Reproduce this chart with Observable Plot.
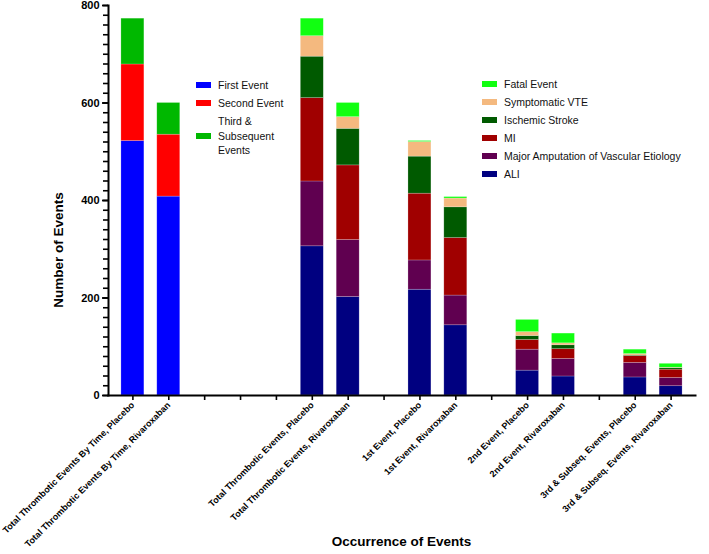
<!DOCTYPE html>
<html>
<head>
<meta charset="utf-8">
<script src="https://cdn.jsdelivr.net/npm/d3@7"></script>
<script src="https://cdn.jsdelivr.net/npm/@observablehq/plot@0.6"></script>
<style>
  body { margin: 0; background: #fff; font-family: "Liberation Sans", Arial, sans-serif; }
  #wrap { position: relative; width: 709px; height: 554px; }
  .legend { position: absolute; font-size: 10.5px; color: #111; line-height: 14.5px; }
  .legend .row { display: flex; align-items: center; }
  .legend .sw { width: 15px; height: 6px; margin-right: 7px; flex: none; }
</style>
</head>
<body>
<div id="wrap"></div>
<script>
// ---- data ----
const categories = [
  "Total Thrombotic Events By Time, Placebo",
  "Total Thrombotic Events By Time, Rivaroxaban",
  " ", "  ", "   ",
  "Total Thrombotic Events, Placebo",
  "Total Thrombotic Events, Rivaroxaban",
  "    ",
  "1st Event, Placebo",
  "1st Event, Rivaroxaban",
  "     ",
  "2nd Event, Placebo",
  "2nd Event, Rivaroxaban",
  "      ",
  "3rd & Subseq. Events, Placebo",
  "3rd & Subseq. Events, Rivaroxaban"
];

const timeSeries = ["First Event", "Second Event", "Third & Subsequent Events"];
const timePlacebo = [522, 157, 94];
const timeRivaroxaban = [408, 127, 65];

const typeSeries = ["ALI", "Major Amputation of Vascular Etiology", "MI", "Ischemic Stroke", "Symptomatic VTE", "Fatal Event"];
const totalPlacebo = [306, 133, 171, 85, 42, 36];
const totalRivaroxaban = [202, 117, 153, 75, 24, 29];
const firstPlacebo = [217, 60, 137, 76, 30, 2];
const firstRivaroxaban = [144, 61, 118, 63, 18, 3];
const secondPlacebo = [51, 43, 20, 8, 8, 25];
const secondRivaroxaban = [39, 36, 20, 8, 4, 20];
const thirdPlacebo = [37, 30, 14, 1, 3, 9];
const thirdRivaroxaban = [19, 17, 17, 3, 1, 8];

const yTicks = [0, 200, 400, 600, 800];

const colors = {
  "First Event": "#0000ff",
  "Second Event": "#ff0000",
  "Third & Subsequent Events": "#00b800",
  "ALI": "#000080",
  "Major Amputation of Vascular Etiology": "#600050",
  "MI": "#a00000",
  "Ischemic Stroke": "#005a00",
  "Symptomatic VTE": "#f4b97f",
  "Fatal Event": "#11ff11"
};

// ---- build long table ----
const rows = [];
function add(cat, series, values) {
  series.forEach((s, i) => rows.push({cat, series: s, value: values[i]}));
}
add(categories[0], timeSeries, timePlacebo);
add(categories[1], timeSeries, timeRivaroxaban);
add(categories[5], typeSeries, totalPlacebo);
add(categories[6], typeSeries, totalRivaroxaban);
add(categories[8], typeSeries, firstPlacebo);
add(categories[9], typeSeries, firstRivaroxaban);
add(categories[11], typeSeries, secondPlacebo);
add(categories[12], typeSeries, secondRivaroxaban);
add(categories[14], typeSeries, thirdPlacebo);
add(categories[15], typeSeries, thirdRivaroxaban);

const allSeries = [...timeSeries, ...typeSeries];

const font = "'Liberation Sans', Arial, sans-serif";
const W = 709, H = 554, mT = 5, mB = 159, mL = 108, mR = 14;

const chart = Plot.plot({
  width: W,
  height: H,
  marginTop: mT,
  marginBottom: mB,
  marginLeft: mL,
  marginRight: mR,
  style: {fontFamily: font, fontSize: "11px", color: "#000", background: "#fff"},
  x: {domain: categories, padding: 0.36, round: false, label: null},
  y: {domain: [0, 800], label: null},
  color: {domain: allSeries, range: allSeries.map(s => colors[s])},
  marks: [
    Plot.barY(rows, {x: "cat", y: "value", fill: "series", stroke: "#ffffff", strokeOpacity: 0.35, strokeWidth: 0.6}),
    Plot.axisY({ticks: d3.range(0, 801, 20), tickSize: 5, tickFormat: () => "", strokeWidth: 1.6}),
    Plot.axisY({ticks: yTicks, tickSize: 6, tickPadding: 3, strokeWidth: 1.8, fontWeight: "bold", fontSize: 11}),
    Plot.axisX({tickSize: 5, tickRotate: -45, tickPadding: 3, strokeWidth: 1.6, fontWeight: "bold", fontSize: 9}),
    Plot.frame({anchor: "left", stroke: "#000", strokeWidth: 2}),
    Plot.frame({anchor: "bottom", stroke: "#000", strokeWidth: 2})
  ]
});

const wrap = document.getElementById("wrap");
wrap.appendChild(chart);

// ---- axis titles ----
const svg = d3.select(chart);
svg.append("text")
  .attr("x", (mL + W - mR) / 2).attr("y", 542)
  .attr("text-anchor", "middle").attr("dominant-baseline", "middle")
  .attr("font-family", font).attr("font-weight", "bold").attr("font-size", 13.5)
  .text("Occurrence of Events");
svg.append("text")
  .attr("transform", "translate(59,250) rotate(-90)")
  .attr("text-anchor", "middle").attr("dominant-baseline", "middle")
  .attr("font-family", font).attr("font-weight", "bold").attr("font-size", 13.5)
  .text("Number of Events");

// ---- legends ----
function legend(left, top, items, gaps) {
  const div = document.createElement("div");
  div.className = "legend";
  div.style.left = left + "px";
  div.style.top = top + "px";
  items.forEach((it, i) => {
    const row = document.createElement("div");
    row.className = "row";
    row.style.marginBottom = (gaps[i] || 0) + "px";
    const sw = document.createElement("div");
    sw.className = "sw";
    sw.style.background = colors[it.key];
    const t = document.createElement("div");
    t.innerHTML = it.label;
    row.appendChild(sw);
    row.appendChild(t);
    div.appendChild(row);
  });
  wrap.appendChild(div);
}
legend(196, 78, [
  {key: "First Event", label: "First Event"},
  {key: "Second Event", label: "Second Event"},
  {key: "Third & Subsequent Events", label: "Third &amp;<br>Subsequent<br>Events"}
], [3.5, 3.5, 0]);
legend(482, 77, [...typeSeries].reverse().map(s => ({key: s, label: s})), [3.5, 3.5, 3.5, 3.5, 3.5, 3.5]);
</script>
</body>
</html>
